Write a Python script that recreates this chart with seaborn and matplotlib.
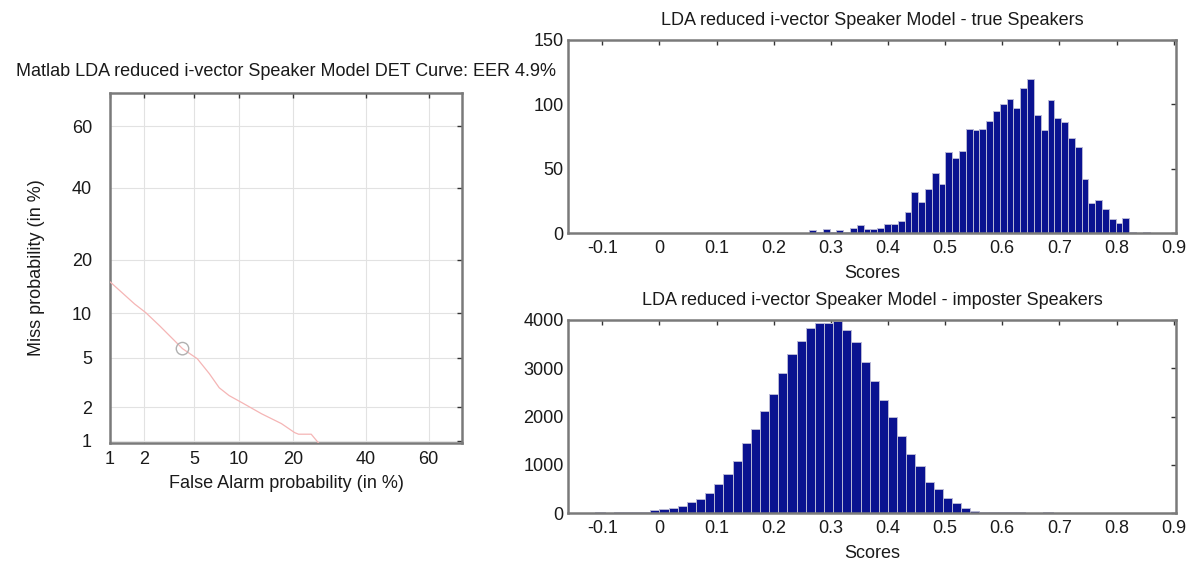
import numpy as np
import pandas as pd
import matplotlib
matplotlib.use("Agg")
import matplotlib.pyplot as plt
import seaborn as sns
from statistics import NormalDist

# ---------------- data ----------------
# DET curve (percent)
det_pfa = [1.0, 1.67, 2.08, 2.72, 4.1, 5.27, 6.4, 7.47, 8.66, 10.4, 13.6, 17.4, 20.3, 21.2, 24.3, 26.4]
det_pmiss = [15.3, 11.4, 10.1, 8.3, 5.8, 4.9, 3.78, 2.92, 2.52, 2.2, 1.76, 1.44, 1.19, 1.15, 1.15, 0.93]
det_marker_pfa = [4.1]
det_marker_pmiss = [5.8]
det_ticks = [1, 2, 5, 10, 20, 40, 60]

# true speaker score histogram (50 bins)
true_lo, true_hi = 0.262, 0.858
true_counts = [2, 1, 3, 1, 2, 1, 4, 6, 3, 3, 4, 7, 7, 9, 16, 32, 24, 34, 47, 38,
               63, 58, 64, 81, 80, 81, 87, 95, 100, 104, 97, 113, 120, 92, 80, 103, 89, 86, 74, 67,
               42, 23, 26, 19, 11, 8, 12, 1, 0, 1]

# imposter speaker score histogram (50 bins)
imp_lo, imp_hi = -0.112, 0.688
imp_counts = [20, 0, 20, 20, 20, 20, 55, 76, 104, 138, 220, 300, 420, 600, 807, 1070, 1450, 1740, 2120, 2460,
              2900, 3300, 3570, 3830, 3930, 3930, 3980, 3800, 3540, 3130, 2730, 2350, 2000, 1590, 1230, 970, 650, 505, 320, 215,
              104, 49, 21, 14, 14, 14, 12, 10, 0, 20]

score_ticks = [-0.1, 0, 0.1, 0.2, 0.3, 0.4, 0.5, 0.6, 0.7, 0.8, 0.9]
score_ticklabels = ["-0.1", "0", "0.1", "0.2", "0.3", "0.4", "0.5", "0.6", "0.7", "0.8", "0.9"]
true_yticks = [0, 50, 100, 150]
imp_yticks = [0, 1000, 2000, 3000, 4000]

title_det = "Matlab LDA reduced i-vector Speaker Model DET Curve: EER 4.9%"
title_true = "LDA reduced i-vector Speaker Model - true Speakers"
title_imp = "LDA reduced i-vector Speaker Model - imposter Speakers"

# ---------------- style ----------------
sns.set_theme(style="white")
plt.rcParams["font.family"] = ["Liberation Sans", "DejaVu Sans"]
FS = 13
TXT = "#1a1a1a"
SPINE = "#7a7a7a"
BAR = "#0a1290"
BAR_EDGE = "#b8b8d6"

fig = plt.figure(figsize=(11.95, 5.61), dpi=100)
fig.patch.set_facecolor("white")

ax_det = fig.add_axes([110/1195, 1-443/561, 352/1195, 350/561])
ax_true = fig.add_axes([568/1195, 1-233/561, 608/1195, 193/561])
ax_imp = fig.add_axes([568/1195, 1-513/561, 608/1195, 193/561])

def style_frame(ax):
    for s in ax.spines.values():
        s.set_visible(True)
        s.set_color(SPINE)
        s.set_linewidth(1.8)
    ax.tick_params(direction="in", length=3.5, width=1, colors="#333333",
                   top=True, right=True, labelsize=FS, labelcolor=TXT)

# ---------------- DET curve ----------------
nd = NormalDist()
_ppf = np.vectorize(nd.inv_cdf, otypes=[float])
_cdf = np.vectorize(nd.cdf, otypes=[float])

def fwd(v):
    p = np.clip(np.asarray(v, dtype=float) / 100.0, 1e-9, 1 - 1e-9)
    return _ppf(p)

def inv(z):
    return _cdf(np.asarray(z, dtype=float)) * 100.0

ax_det.set_xscale("function", functions=(fwd, inv))
ax_det.set_yscale("function", functions=(fwd, inv))

det_df = pd.DataFrame({"pfa": det_pfa, "pmiss": det_pmiss})
sns.lineplot(data=det_df, x="pfa", y="pmiss", ax=ax_det, estimator=None, sort=False,
             color="#f5b5b5", linewidth=0.9, zorder=3)
sns.scatterplot(x=det_marker_pfa, y=det_marker_pmiss, ax=ax_det, s=80, marker="o",
                facecolor="none", edgecolor="#b0b0b0", linewidth=1.0, zorder=4)

ax_det.set_xlim(1.0, 70.0)
ax_det.set_ylim(0.95, 70.0)
ax_det.set_xticks(det_ticks)
ax_det.set_yticks(det_ticks)
ax_det.set_xticklabels([str(t) for t in det_ticks])
ax_det.set_yticklabels([str(t) for t in det_ticks])
ax_det.minorticks_off()
ax_det.grid(True, color="#e2e2e2", linewidth=0.8)
style_frame(ax_det)
ax_det.tick_params(axis="y", pad=13)
ax_det.tick_params(axis="x", pad=6)
ax_det.set_xlabel("False Alarm probability (in %)", fontsize=FS, color=TXT, labelpad=5)
ax_det.set_ylabel("Miss probability (in %)", fontsize=FS, color=TXT, labelpad=19)
ax_det.set_title(title_det, fontsize=FS, color=TXT, pad=12)

# ---------------- histograms ----------------
def draw_hist(ax, lo, hi, counts, yticks, title):
    n = len(counts)
    width = (hi - lo) / n
    centers = lo + width * (np.arange(n) + 0.5)
    df = pd.DataFrame({"score": centers, "count": np.asarray(counts, dtype=float)})
    sns.histplot(data=df, x="score", weights="count", bins=n, binrange=(lo, hi), ax=ax,
                 color=BAR, edgecolor=BAR_EDGE, linewidth=0.7, alpha=1.0)
    ax.set_xlim(-0.16, 0.904)
    ax.set_ylim(yticks[0], yticks[-1])
    ax.set_xticks(score_ticks)
    ax.set_xticklabels(score_ticklabels)
    ax.set_yticks(yticks)
    ax.set_yticklabels([str(t) for t in yticks])
    style_frame(ax)
    ax.tick_params(axis="y", pad=3)
    ax.tick_params(axis="x", pad=5)
    ax.set_xlabel("Scores", fontsize=FS, color=TXT, labelpad=6)
    ax.set_ylabel("")
    ax.set_title(title, fontsize=FS, color=TXT, pad=11)

draw_hist(ax_true, true_lo, true_hi, true_counts, true_yticks, title_true)
draw_hist(ax_imp, imp_lo, imp_hi, imp_counts, imp_yticks, title_imp)

fig.savefig("out.png", dpi=100, facecolor="white")
